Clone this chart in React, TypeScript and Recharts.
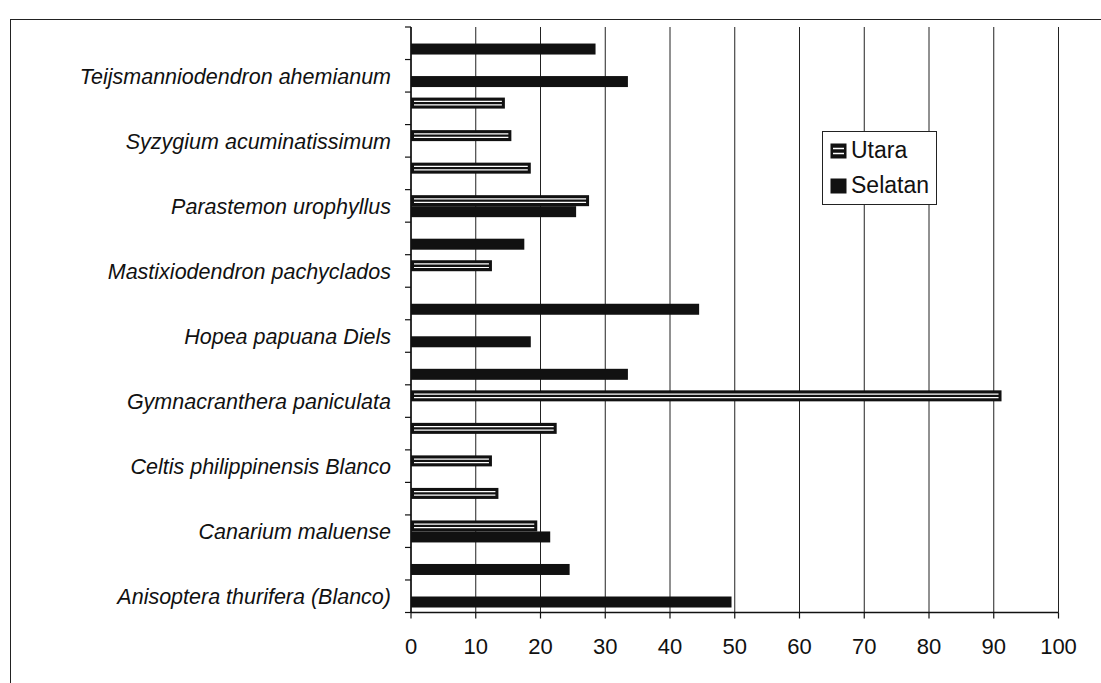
import React from "react";
import { BarChart, Bar, XAxis, YAxis, CartesianGrid, Legend } from "recharts";

// Categories listed from top to bottom as drawn
const categories = [
  "r01", "r02", "r03", "r04", "r05", "r06", "r07", "r08", "r09",
  "r10", "r11", "r12", "r13", "r14", "r15", "r16", "r17", "r18",
];

const tickLabels = [
  "", "Teijsmanniodendron ahemianum",
  "", "Syzygium acuminatissimum",
  "", "Parastemon urophyllus",
  "", "Mastixiodendron pachyclados",
  "", "Hopea papuana Diels",
  "", "Gymnacranthera paniculata",
  "", "Celtis philippinensis Blanco",
  "", "Canarium maluense",
  "", "Anisoptera thurifera (Blanco)",
];

const utara = [0, 0, 14.5, 15.5, 18.5, 27.5, 0, 12.5, 0, 0, 0, 91.2, 22.5, 12.5, 13.5, 19.5, 0, 0];
const selatan = [28.5, 33.5, 0, 0, 0, 25.5, 17.5, 0, 44.5, 18.5, 33.5, 0, 0, 0, 0, 21.5, 24.5, 49.5];

const xTicks = [0, 10, 20, 30, 40, 50, 60, 70, 80, 90, 100];

const data = categories.map((c, i) => ({
  category: c,
  label: tickLabels[i],
  Utara: utara[i],
  Selatan: selatan[i],
}));

const FONT = "'Liberation Sans', Arial, Helvetica, sans-serif";

const UtaraShape = (p: any) => {
  const { x, y, width, height } = p;
  if (!width || width <= 0.5) return null;
  const y1 = y + height * 0.34;
  const y2 = y + height * 0.66;
  return (
    <g>
      <rect x={x} y={y} width={width} height={height} fill="#111" />
      <line x1={x + 3} x2={x + width - 3} y1={y1} y2={y1} stroke="#fff" strokeWidth={1.2} />
      <line x1={x + 3} x2={x + width - 3} y1={y2} y2={y2} stroke="#fff" strokeWidth={1.2} />
    </g>
  );
};

const SelatanShape = (p: any) => {
  const { x, y, width, height } = p;
  if (!width || width <= 0.5) return null;
  return <rect x={x} y={y} width={width} height={height} fill="#111" />;
};

const YTick = (props: any) => {
  const { x, y, payload, index } = props;
  const axisX = x + 20;
  const half = payload && payload.offset ? payload.offset : 16.25;
  const idx = categories.indexOf(payload.value);
  const text = idx >= 0 ? tickLabels[idx] : "";
  return (
    <g>
      <line x1={axisX - 6} x2={axisX} y1={y - half} y2={y - half} stroke="#111" strokeWidth={1.2} />
      {index === categories.length - 1 && (
        <line x1={axisX - 6} x2={axisX} y1={y + half} y2={y + half} stroke="#111" strokeWidth={1.2} />
      )}
      {text && (
        <text
          x={x}
          y={y}
          dy="0.36em"
          textAnchor="end"
          fontFamily={FONT}
          fontStyle="italic"
          fontSize={21.5}
          fill="#111"
        >
          {text}
        </text>
      )}
    </g>
  );
};

const LegendBox = () => (
  <div
    style={{
      border: "1.2px solid #222",
      background: "#fff",
      padding: "1px 7px 1px 7px",
      fontFamily: FONT,
      fontSize: 23,
      color: "#111",
      lineHeight: "35px",
      width: "fit-content",
    }}
  >
    <div style={{ display: "flex", alignItems: "center" }}>
      <svg width={17} height={16} style={{ marginRight: 4 }}>
        <rect x={0.5} y={0.5} width={16} height={15} fill="#111" />
        <line x1={3} x2={14} y1={5.5} y2={5.5} stroke="#fff" strokeWidth={1.5} />
        <line x1={3} x2={14} y1={10.5} y2={10.5} stroke="#fff" strokeWidth={1.5} />
      </svg>
      <span>Utara</span>
    </div>
    <div style={{ display: "flex", alignItems: "center" }}>
      <svg width={17} height={16} style={{ marginRight: 4 }}>
        <rect x={0.5} y={0.5} width={16} height={15} fill="#111" />
      </svg>
      <span>Selatan</span>
    </div>
  </div>
);

export default function App() {
  return (
    <div style={{ position: "relative", width: 1101, height: 683, overflow: "hidden", background: "#fff" }}>
      <style>{"body{margin:0;overflow:hidden;background:#fff}"}</style>
      <div
        style={{
          position: "absolute",
          left: 10,
          top: 19,
          width: 1300,
          height: 900,
          border: "1.5px solid #222",
          boxSizing: "border-box",
        }}
      />
      <div style={{ position: "absolute", left: 0, top: 0 }}>
        <BarChart
          width={1101}
          height={683}
          data={data}
          layout="vertical"
          margin={{ top: 27, right: 42.5, bottom: 30.5, left: 0 }}
          barCategoryGap="17%"
          barGap={0}
        >
          <CartesianGrid horizontal={false} vertical={true} stroke="#222" strokeWidth={1} />
          <XAxis
            type="number"
            domain={[0, 100]}
            ticks={xTicks}
            interval={0}
            height={40}
            tickSize={6}
            tickMargin={20}
            axisLine={{ stroke: "#111", strokeWidth: 1.5 }}
            tickLine={{ stroke: "#111", strokeWidth: 1.2 }}
            tick={{ fill: "#111", fontSize: 22, fontFamily: FONT }}
          />
          <YAxis
            type="category"
            dataKey="category"
            width={411}
            interval={0}
            tickSize={6}
            tickMargin={14}
            tickLine={false}
            axisLine={{ stroke: "#111", strokeWidth: 1.5 }}
            tick={<YTick />}
          />
          <Legend
            layout="vertical"
            align="center"
            verticalAlign="middle"
            content={<LegendBox />}
            wrapperStyle={{ left: 822, top: 131, width: 124, height: 72 }}
          />
          <Bar dataKey="Utara" isAnimationActive={false} shape={<UtaraShape />} />
          <Bar dataKey="Selatan" isAnimationActive={false} shape={<SelatanShape />} />
        </BarChart>
      </div>
    </div>
  );
}
